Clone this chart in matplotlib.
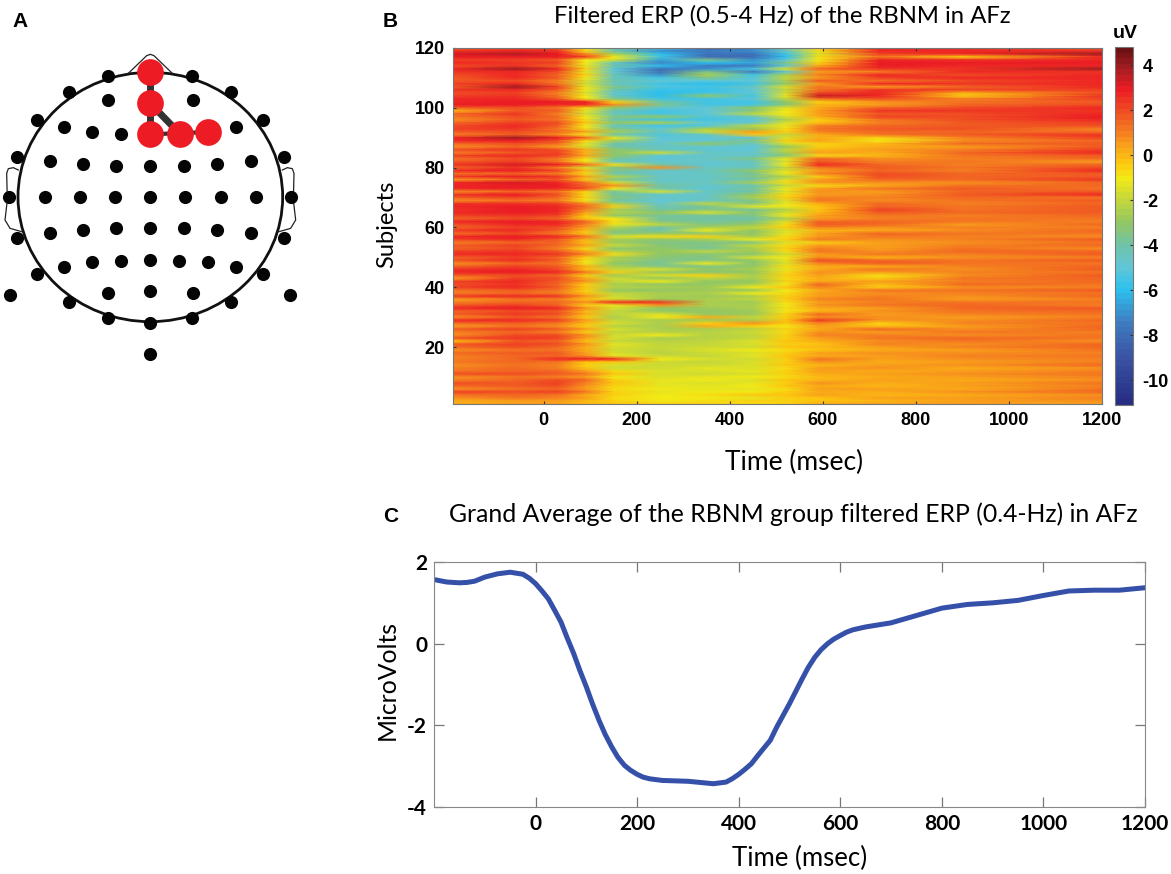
#!/usr/bin/env python3
# -*- coding: utf-8 -*-
"Filtered ERP of the RBNM group: electrode map, subject image and grand average"

import numpy as np
import matplotlib
matplotlib.use('Agg')
import matplotlib.pyplot as plt
from matplotlib.colors import LinearSegmentedColormap
from matplotlib.patches import Ellipse

plt.rcParams['axes.unicode_minus'] = False

#electrodes
black_x = [324, 576, 208, 692, 323, 578, 112, 788, 191, 709, 275, 362, 50, 851, 149, 752, 248, 652, 349, 451, 551,
           28, 134, 239, 344, 451, 556, 662, 767, 872, 50, 851, 149, 752, 248, 652, 349, 451, 551,
           362, 538, 451, 275, 625, 191, 709, 112, 788, 31, 870, 323, 578, 451, 208, 692, 324, 576, 451, 451]
black_y = [227, 227, 277, 277, 300, 300, 360, 360, 382, 382, 395, 401, 470, 470, 484, 484, 492, 492, 497, 497, 497,
           591, 591, 591, 591, 591, 591, 591, 591, 591, 714, 714, 698, 698, 690, 690, 685, 685, 685,
           782, 782, 779, 787, 787, 800, 800, 822, 822, 884, 884, 880, 880, 873, 905, 905, 955, 955, 968, 1062]
red_x = [451, 451, 451, 539, 625]
red_y = [216, 310, 403, 401, 396]
nose_x = [385, 440, 451, 462, 517]
nose_y = [220, 167, 163, 167, 220]
ear_x = [55, 40, 25, 20, 22, 15, 30, 65]
ear_y = [510, 503, 506, 520, 600, 660, 685, 695]

#single subject image (uV), subject 120 first
time_subj = [-195, -60, 30, 90, 150, 250, 350, 450, 520, 590, 720, 900, 1200]
erp_subj = [
    [1.5, 2.3, 2.0, -0.5, -3.8, -5.5, -8.5, -7.5, -4.5, -0.5, 2.6, 2.5, 1.8],
    [2.4, 2.8, 2.5, -0.8, -4.2, -7.0, -7.5, -7.0, -4.5, -0.8, 2.8, 2.8, 2.5],
    [3.2, 3.6, 3.0, 0.6, -2.5, -6.0, -7.8, -7.8, -5.5, -1.5, 2.3, 2.8, 3.9],
    [3.0, 3.0, 3.0, 2.2, -1.0, -5.5, -8.0, -8.0, -6.0, -0.8, 1.2, -0.5, 2.8],
    [2.2, 2.3, 1.8, -1.0, -1.5, -6.5, -3.5, -7.0, -5.0, -1.0, 2.8, 2.5, 2.6],
    [2.8, 2.5, 2.2, -1.0, -4.5, -7.2, -6.0, -6.5, -3.5, -0.5, 3.0, 3.0, 3.0],
    [2.0, 2.5, 1.5, -1.2, -4.0, -6.0, -7.5, -7.5, -5.0, 0.2, 3.0, 2.6, 2.8],
    [2.6, 3.9, 2.8, -0.5, -5.0, -7.8, -7.0, -5.5, -1.5, 1.5, 2.5, 2.5, 4.0],
    [2.4, 2.8, 2.0, -1.2, -4.8, -7.8, -3.5, -7.5, -5.0, 0.5, 1.0, 2.8, 2.5],
    [2.0, 2.6, 1.5, -0.5, -4.2, -7.0, -2.5, -5.5, -2.5, 1.0, 2.6, 2.0, 2.8],
    [1.8, 2.8, 1.8, -1.0, -4.5, -5.5, -3.5, -5.2, -2.0, 0.5, 2.3, 2.6, 2.6],
    [1.6, 2.0, 1.0, -1.5, -4.0, -5.0, -5.0, -5.0, -2.5, 1.8, 1.2, 2.0, 2.8],
    [2.2, 2.8, 1.2, -1.8, -4.5, -5.5, -6.0, -5.5, -3.0, 0.5, 2.8, 2.4, 2.6],
    [1.8, 3.9, 2.2, -1.2, -3.5, -5.2, -5.5, -4.5, -1.5, 1.2, 0.5, 1.5, 2.8],
    [2.5, 2.8, 1.8, -1.0, -4.0, -5.8, -5.8, -5.0, -2.0, 1.2, 2.5, 2.2, 2.2],
    [2.0, 2.3, 1.0, -1.5, -4.8, -6.0, -5.5, -5.0, -1.8, 2.0, 2.8, 0.2, 2.0],
    [2.2, 2.5, 1.2, -1.0, -4.5, -6.0, -3.0, -5.5, -1.2, 3.5, 2.6, -0.5, 2.4],
    [2.6, 2.8, 1.8, -1.0, -3.5, -5.5, -5.5, -5.0, -2.0, 1.5, 2.0, 1.0, 2.2],
    [2.8, 3.0, 3.0, 2.6, -0.5, -4.0, -5.5, -5.5, -3.0, -0.5, 0.8, 1.2, 1.8],
    [3.0, 3.0, 2.8, 2.8, 0.8, -3.5, -5.5, -5.5, -3.2, 0.0, 0.5, 1.5, 2.0],
    [1.8, 2.0, 1.2, -0.5, -3.0, -4.8, -5.0, -3.0, -1.5, 0.2, 1.5, 2.0, 2.8],
    [0.0, 1.8, 1.8, -1.2, -4.0, -5.5, -5.0, -3.5, -1.0, 0.5, 2.5, 2.4, 2.5],
    [1.5, 2.5, 1.0, -1.8, -4.5, -5.5, -5.0, -2.0, -1.0, 0.5, 1.8, 2.0, 2.6],
    [1.2, 2.0, 1.5, -1.0, -3.5, -3.0, -5.2, -4.5, -1.5, 0.2, 2.2, 2.0, 3.0],
    [0.8, 1.8, 1.2, -0.8, -4.2, -5.5, -5.5, -5.0, -2.5, -0.5, 1.2, 2.0, 2.8],
    [1.5, 2.2, 2.0, -0.2, -3.0, -2.5, -5.0, -4.8, -1.5, -0.2, 1.0, 1.8, 2.2],
    [2.0, 2.6, 1.8, -1.0, -4.5, -5.5, -5.2, -2.0, -1.2, 1.0, 1.5, 1.6, 2.0],
    [2.2, 2.4, 1.2, -0.8, -3.5, -5.0, -2.5, -3.0, -0.8, 1.2, 1.8, 2.0, 1.0],
    [1.8, 2.0, 1.5, 0.5, -2.5, -4.5, -1.8, 0.5, -0.5, 1.0, 1.5, 1.5, 1.2],
    [1.0, 1.8, 0.8, -1.0, -4.0, -5.2, -4.5, -0.2, -2.0, 0.2, 1.2, 1.8, 2.4],
    [2.8, 3.9, 3.0, 1.5, -1.2, -5.0, -5.0, -4.8, -1.5, 0.2, -0.5, 1.0, 2.2],
    [2.8, 3.0, 2.0, -0.5, -2.5, -5.0, -5.0, -3.5, -0.5, 0.5, -1.0, 0.8, 1.5],
    [1.5, 2.0, 1.5, -1.2, -4.0, -4.8, -3.0, -4.5, -1.5, -0.5, 0.0, 1.5, 1.6],
    [0.8, 1.5, 0.5, -1.5, -4.0, -4.5, -4.8, -5.0, -3.0, -0.5, 0.2, 0.5, 1.8],
    [2.0, 2.5, 2.0, 0.2, -3.0, -4.5, -5.0, -5.0, -2.0, 0.0, 0.5, 1.0, 2.2],
    [1.0, 1.8, 2.2, 0.0, -3.2, -1.8, -4.5, -4.8, -2.5, 0.5, 0.2, 1.5, 2.6],
    [2.2, 2.8, 2.2, 0.5, -3.0, -5.0, -4.8, -4.8, -3.2, -0.8, 0.0, 1.2, 1.8],
    [1.2, 2.0, 1.2, -0.8, -3.8, -5.0, -4.5, -3.5, -1.2, 1.5, 0.8, 1.0, 1.5],
    [1.8, 2.2, 1.2, -1.0, -4.5, -4.8, -4.8, -4.5, -1.5, 1.8, 1.0, 1.2, 0.5],
    [2.5, 3.2, 3.0, 1.5, -0.8, -4.0, -5.0, -4.5, -1.0, 2.8, 1.5, 1.0, 1.5],
    [1.5, 2.4, 1.0, -1.5, -3.5, 0.6, -4.5, -4.5, -2.0, 1.2, 1.8, 1.2, 2.0],
    [2.8, 3.0, 2.2, 0.0, -3.5, -4.8, -4.5, -3.0, -1.5, 0.5, 1.5, 1.0, 2.8],
    [1.2, 1.5, 1.0, -0.8, -4.0, -4.8, -4.5, -3.8, -1.0, 1.0, 2.0, 1.5, 1.8],
    [2.4, 3.0, 2.5, 0.5, -2.2, -4.5, -4.8, -3.5, -2.5, -0.5, 2.0, 1.5, 1.8],
    [0.5, 1.5, 1.8, -0.5, -3.5, -4.8, -4.5, -4.0, -1.5, 0.5, 1.5, 1.5, 2.5],
    [2.8, 3.1, 2.6, 1.2, -1.5, -4.5, -4.5, -2.5, -0.8, 0.8, 0.8, 0.8, 1.5],
    [2.8, 3.0, 3.0, 1.5, 0.8, -3.8, -4.8, -4.2, -2.0, -0.8, 0.2, 1.2, 1.5],
    [2.6, 3.0, 2.8, 2.0, -1.0, -4.2, -5.0, -3.8, -1.0, 0.5, 1.2, 1.8, 1.2],
    [0.8, 1.5, 1.2, -0.5, -3.8, -1.5, -4.5, -4.0, -1.5, 0.8, 0.5, 1.5, 1.8],
    [2.4, 3.0, 2.0, -0.8, -3.8, -4.8, -4.8, -3.0, -0.8, 0.5, 0.8, 1.6, 2.8],
    [1.8, 2.2, 1.5, -0.5, -3.2, -4.8, -4.5, -2.5, -0.5, 1.0, 1.0, 1.5, 1.2],
    [0.8, 1.2, 1.0, -1.0, -4.0, -5.0, -4.8, -3.5, -1.5, 1.2, 0.8, 1.2, 1.6],
    [2.4, 2.5, 2.2, 0.8, -2.5, -4.8, -2.0, -3.5, -1.2, 0.2, 1.5, 1.0, 1.5],
    [2.8, 3.0, 2.8, 1.5, -0.5, -4.2, -3.8, -1.2, -1.0, -0.2, 1.5, 1.2, 1.8],
    [2.5, 3.0, 2.6, 1.0, -2.5, -4.0, -3.5, -3.8, -2.2, -0.2, 2.2, 1.2, 1.6],
    [2.8, 3.0, 2.8, 0.5, -2.2, -3.0, -1.5, -3.2, -1.8, 0.0, 1.8, 1.5, 1.8],
    [2.2, 2.5, 2.2, -0.2, -3.0, -3.8, -3.8, -3.5, -1.0, 0.5, 1.2, 1.0, 1.4],
    [1.5, 2.0, 1.5, -0.5, -1.0, -3.8, -4.0, -4.0, -2.5, 0.5, 1.0, 1.2, 1.2],
    [2.8, 3.0, 2.8, 1.5, -0.8, -3.5, -3.8, -3.5, -1.5, 1.5, 1.5, 1.2, 1.0],
    [2.0, 2.8, 2.6, 1.0, -1.2, -2.0, -3.5, -3.0, -0.8, 1.8, 1.5, 0.5, 1.5],
    [1.5, 2.2, 2.0, 0.5, -2.2, -4.0, -2.5, -2.0, -0.5, 1.0, 0.8, 1.0, 1.0],
    [2.5, 2.8, 1.8, 0.0, -3.0, -4.0, -1.0, -3.0, -1.5, 0.0, 0.2, 0.8, 1.5],
    [1.2, 2.0, 1.0, -0.5, -3.5, -3.0, -3.2, -3.0, -1.2, 0.5, 1.5, 1.2, 1.2],
    [2.8, 3.0, 2.6, 1.2, -1.5, -0.8, -0.5, -2.8, -0.8, 0.5, 1.2, 1.0, 0.8],
    [2.2, 2.6, 1.8, 0.2, -2.5, -3.0, -2.5, -1.0, -0.5, 1.2, 0.6, 1.0, 1.6],
    [1.0, 1.5, 1.5, -0.2, -2.8, -3.5, -3.5, -3.5, -1.5, -0.5, 0.5, 0.8, 1.2],
    [1.8, 2.2, 1.5, 0.5, -1.8, -3.2, -3.5, -2.0, -0.8, 0.5, 0.5, 1.0, 1.5],
    [1.5, 2.0, 1.0, -0.8, -3.2, -3.0, -3.8, -2.5, -0.5, 1.0, 0.5, 1.2, 0.8],
    [2.2, 2.4, 1.8, 0.2, -2.2, -3.0, -2.0, -2.8, -0.8, 1.2, 0.8, 1.5, 1.4],
    [2.6, 2.8, 2.5, 1.0, -0.8, -3.0, -3.2, -3.2, -1.8, 0.5, 1.2, 1.0, 1.6],
    [1.5, 2.2, 1.5, -0.5, -2.5, -3.2, -3.5, -1.5, -1.0, 0.8, 0.0, 0.8, 1.0],
    [2.0, 2.8, 1.8, -0.8, -2.5, -3.5, -3.5, -3.0, -1.2, 2.0, 1.5, 1.2, 1.8],
    [0.8, 1.5, 1.2, -1.0, -3.0, -3.8, -1.0, -3.2, -1.5, 1.0, 1.8, 1.2, 1.2],
    [1.5, 2.2, 1.8, 0.2, -2.5, -3.5, -3.5, -3.0, -0.8, 0.2, 0.2, 1.0, 1.5],
    [2.5, 2.8, 2.0, -0.2, -2.0, -1.5, -3.0, -2.5, -1.2, 0.2, 1.2, 0.8, 1.8],
    [2.8, 3.0, 2.6, 1.2, -0.5, -3.0, -3.2, -3.0, -0.8, 0.8, 0.5, 1.0, 1.2],
    [1.8, 2.0, 1.5, -0.5, -2.8, -1.5, -0.5, -2.5, -0.5, 0.5, -0.8, 0.8, 1.6],
    [0.5, 2.2, 2.0, 0.2, -1.8, -3.0, -2.0, -2.5, -0.8, 0.2, -0.5, 1.2, 1.4],
    [2.2, 2.6, 1.8, 0.8, -2.0, -1.0, -3.0, -3.0, -0.5, 0.2, 0.5, 1.0, 1.5],
    [2.0, 2.4, 1.5, -0.5, -2.5, -3.0, -3.0, -2.5, -1.0, 1.5, 0.0, 1.5, 1.2],
    [2.2, 2.8, 1.8, -0.2, -2.2, -2.5, -2.8, -1.0, -0.2, 1.0, -0.5, 0.8, 1.0],
    [1.2, 1.8, 1.2, -0.5, -3.0, -3.0, -2.8, -3.0, -1.0, 0.2, 1.2, 1.2, 1.6],
    [1.0, 1.5, 1.0, -0.2, -2.0, -2.5, -2.5, -1.0, -0.8, 0.5, 0.8, 1.0, 1.2],
    [2.4, 2.8, 2.5, 0.8, -1.8, -2.5, -2.8, -2.5, -0.5, 0.5, 1.0, 0.8, 1.5],
    [0.5, 1.2, 1.0, -0.2, -1.5, -2.8, -2.5, -2.0, -0.5, 1.0, 1.2, 0.5, 1.0],
    [1.0, 1.5, 1.5, 0.8, 2.8, 2.5, -2.5, -2.8, -0.8, 0.5, 1.0, 1.2, 1.2],
    [1.8, 2.2, 1.5, -0.5, -1.2, 0.8, -2.5, -2.5, -1.0, 0.8, 1.2, 1.4, 1.0],
    [2.6, 3.0, 2.8, 0.8, -1.5, -3.0, -2.8, -2.5, -0.8, 0.2, 0.5, 1.5, 1.6],
    [1.5, 2.0, 1.8, 0.0, -2.0, -3.0, -3.0, -2.8, -1.0, 0.0, 0.8, 1.2, 1.4],
    [1.8, 2.4, 2.0, 0.2, -2.0, -1.5, -3.0, -2.8, -0.5, 1.5, 0.5, 1.0, 1.2],
    [0.8, 1.8, 1.2, -0.5, -2.5, -1.0, 0.2, -2.0, -0.5, 0.8, 0.8, 0.5, 1.0],
    [2.8, 2.6, 2.2, 0.5, -2.0, -2.5, -2.8, -2.5, -0.2, 2.5, 0.8, 0.8, 1.4],
    [1.5, 1.8, 1.2, 0.0, -1.5, -2.5, -0.5, 0.8, -0.2, 1.0, -0.5, 1.0, 1.2],
    [0.5, 1.2, 0.8, -0.5, -2.2, -2.5, 0.2, -0.5, -1.0, 0.5, -0.2, 0.5, 1.5],
    [1.8, 2.2, 1.8, 0.5, -1.5, -2.5, -2.5, -2.2, -0.5, 0.2, 1.5, 0.8, 1.4],
    [1.0, 1.5, 1.0, -0.5, -2.0, -2.2, -2.2, -1.8, -0.8, 0.8, 0.5, 1.2, 1.0],
    [0.8, 2.0, 2.0, 0.8, -1.8, -1.0, -2.2, -2.0, -0.5, 1.0, 1.0, 0.8, 1.2],
    [2.0, 2.4, 2.2, 0.5, -1.5, -2.5, -2.2, -2.0, -0.5, 0.5, 1.2, 1.5, 1.2],
    [-0.2, 1.8, 1.5, -0.2, -2.0, -2.2, -2.0, -1.5, -0.2, 0.2, 0.8, 1.2, 0.8],
    [1.8, 2.2, 2.0, 0.8, -1.2, -2.0, -2.0, -1.5, -0.5, -0.2, 1.0, 0.8, 1.4],
    [1.5, 2.0, 1.5, 0.2, -1.5, -2.0, -1.8, -1.8, -0.2, 0.0, 0.5, 1.0, 1.5],
    [0.8, 1.2, 1.2, 0.2, -1.8, -2.0, -1.5, -1.0, -0.8, -0.2, 0.2, 0.5, 1.2],
    [1.4, 1.8, 1.6, 0.4, -1.5, -2.2, -1.8, -1.6, -0.5, 0.5, 0.8, 0.6, 1.0],
    [1.0, 1.5, 1.4, 0.6, -1.2, -1.8, -2.0, -1.2, -0.4, 0.2, 0.4, 1.0, 1.3],
    [1.0, 1.5, 2.6, 3.0, 2.8, -1.0, -1.5, -1.8, -0.5, 1.2, 0.5, 0.8, 1.0],
    [1.2, 1.5, 1.2, -0.2, -0.2, -1.8, -2.0, -1.5, -0.5, 0.8, 0.2, 0.5, 1.0],
    [0.8, 1.2, 1.0, -0.5, -1.5, -1.8, -1.8, -1.5, -0.2, 0.0, 0.5, 0.8, 1.4],
    [1.0, 1.5, 1.0, -0.2, -1.8, -1.8, -1.2, -1.5, -0.8, 0.5, 0.8, 0.2, 0.8],
    [1.2, 1.5, 1.5, 0.5, -0.8, -1.5, -1.5, -1.2, -0.5, 0.5, 0.2, 0.5, 1.0],
    [2.0, 2.0, 1.8, 1.2, -0.2, -1.5, -1.8, -1.5, -0.5, 0.2, 0.5, 0.8, 1.2],
    [0.8, 1.2, 1.0, 0.5, -1.0, -1.5, -1.2, -1.0, -0.8, 0.0, 0.2, 0.5, 1.0],
    [1.0, 1.5, 2.0, 1.5, -0.5, -1.2, -1.0, -1.5, -0.2, 0.0, 0.5, 0.2, 0.8],
    [2.0, 1.8, 2.2, 1.0, -0.2, -1.2, -1.5, -1.2, -0.5, 0.8, 0.2, 0.5, 1.2],
    [1.5, 1.8, 2.0, 0.8, -0.5, -1.2, -1.2, -1.0, -0.2, 0.2, 0.0, 0.5, 1.0],
    [0.8, 1.2, 1.5, 0.5, -0.8, -1.0, -1.2, -1.2, -0.8, 0.5, 0.5, 0.2, 1.2],
    [2.2, 2.0, 2.2, 1.2, -0.5, -1.2, -1.0, -1.0, -0.5, 0.2, 0.2, 0.8, 1.4],
    [1.2, 1.5, 1.2, 0.2, -0.5, -1.0, -0.8, -0.2, -0.2, 0.5, 0.0, 0.2, 0.8],
    [0.8, 1.2, 1.0, 0.5, -0.8, -1.0, -1.0, -1.2, -0.5, -0.2, 0.5, 0.5, 1.0],
    [0.2, 0.5, 0.5, 0.0, -0.5, -1.0, -0.8, -0.5, -0.5, -0.2, 0.0, 0.5, 0.8],
    [0.2, 0.4, 0.4, 0.0, -0.2, -0.5, -0.5, -0.8, -0.5, 0.2, 0.5, 0.5, 0.5],
]
subject_ticks = [20, 40, 60, 80, 100, 120]
colorbar_ticks = [-10, -8, -6, -4, -2, 0, 2, 4]

#grand average
time_avg = [-200, -175, -150, -135, -120, -100, -75, -50, -25, -12, 0, 12, 25, 37, 50, 62, 75, 87, 100, 112, 125, 137,
            150, 162, 175, 187, 200, 212, 225, 250, 300, 350, 375, 387, 400, 412, 425, 437, 450, 462, 475, 500, 525,
            537, 550, 562, 575, 587, 600, 612, 625, 650, 700, 750, 800, 850, 900, 950, 1000, 1050, 1100, 1150, 1200]
erp_avg = [1.57, 1.51, 1.49, 1.50, 1.53, 1.63, 1.71, 1.75, 1.70, 1.60, 1.47, 1.30, 1.10, 0.83, 0.53, 0.15, -0.24, -0.65,
           -1.06, -1.47, -1.88, -2.22, -2.53, -2.78, -2.98, -3.10, -3.20, -3.27, -3.31, -3.35, -3.37, -3.43, -3.39,
           -3.31, -3.20, -3.08, -2.94, -2.75, -2.55, -2.37, -2.04, -1.47, -0.86, -0.58, -0.33, -0.15, 0.00, 0.11,
           0.20, 0.28, 0.34, 0.41, 0.51, 0.69, 0.87, 0.96, 1.00, 1.06, 1.18, 1.29, 1.31, 1.31, 1.37]
time_ticks_avg = [0, 200, 400, 600, 800, 1000, 1200]
volt_ticks = [-4, -2, 0, 2]

W, H = 1171.0, 874.0
bold_sans = 'Liberation Sans'
lato = 'Lato'

def box(left, top, right, bottom):
    return [left/W, 1 - bottom/H, (right - left)/W, (bottom - top)/H]

fig = plt.figure(figsize=(W/100, H/100), dpi=100)

#A head map
ax_a = fig.add_axes([0, 1 - 370/H, 320/W, 370/H])
ax_a.set_xlim(0, 960)
ax_a.set_ylim(1110, 0)
ax_a.axis('off')
ax_a.add_patch(Ellipse((451, 591), 794, 748, fill=False, ec='#111111', lw=2.0))
ax_a.plot(nose_x, nose_y, color='#222222', lw=0.9)
ax_a.plot(ear_x, ear_y, color='#222222', lw=0.9)
ax_a.plot(902 - np.array(ear_x), ear_y, color='#222222', lw=0.9)
ax_a.scatter(black_x, black_y, s=90, color='#050505', zorder=3, lw=0)
ax_a.plot([red_x[0], red_x[2]], [red_y[0], red_y[2]], color='#333333', lw=5, zorder=4)
ax_a.plot([red_x[1], red_x[3]], [red_y[1], red_y[3]], color='#333333', lw=5, zorder=4)
ax_a.plot([red_x[2], red_x[4]], [red_y[2], red_y[4]], color='#333333', lw=3, zorder=4)
ax_a.scatter(red_x, red_y, s=370, color='#ed1c24', zorder=5, lw=0)

#B subject image
stops = [(-11.1, '#262d82'), (-9, '#3b55a5'), (-7.5, '#3f7cc0'), (-6, '#2cc1ef'), (-5, '#62c6d6'), (-4, '#70c3a8'),
         (-3, '#93c763'), (-2, '#c3d63c'), (-1, '#f2ea17'), (-0.3, '#fdc60f'), (0.5, '#f9a01b'), (1, '#f58220'),
         (2, '#f04e23'), (3, '#ed1c24'), (4, '#a11d21'), (4.8, '#6d1214')]
vmin, vmax = -11.1, 4.8
cmap = LinearSegmentedColormap.from_list('erp', [((v - vmin)/(vmax - vmin), c) for v, c in stops], N=64)

ax_b = fig.add_axes(box(453, 48, 1102, 404))
subjects = np.arange(120, 0, -1)
mesh = ax_b.pcolormesh(time_subj, subjects, np.array(erp_subj), cmap=cmap, vmin=vmin, vmax=vmax, shading='gouraud')
ax_b.set_xlim(-195, 1200)
ax_b.set_ylim(1, 120)
ax_b.set_xticks(time_ticks_avg)
ax_b.set_yticks(subject_ticks)
ax_b.tick_params(direction='in', length=2, width=0.8, pad=6, labelsize=13, color='#333333', top=True)
for lab in ax_b.get_xticklabels() + ax_b.get_yticklabels():
    lab.set_family(bold_sans)
    lab.set_fontweight('bold')
for s in ax_b.spines.values():
    s.set_color('#777777')
fig.text(782/W, 1 - 23/H, 'Filtered ERP (0.5-4 Hz) of the RBNM in AFz', family=lato, fontsize=17.2,
         ha='center', va='baseline')
fig.text(794/W, 1 - 470/H, 'Time (msec)', family=lato, fontsize=19, ha='center', va='baseline')
fig.text(387/W, 1 - 224/H, 'Subjects', family=lato, fontsize=17, rotation=90, ha='center', va='center')

cax = fig.add_axes(box(1115, 47, 1133, 405))
cb = fig.colorbar(mesh, cax=cax)
cb.set_ticks(colorbar_ticks)
cb.ax.tick_params(direction='in', length=2, width=0.8, pad=7, labelsize=13, color='#333333')
for lab in cb.ax.get_yticklabels():
    lab.set_family(bold_sans)
    lab.set_fontweight('bold')
cb.outline.set_edgecolor('#777777')
fig.text(1125/W, 1 - 38/H, 'uV', family=bold_sans, fontweight='bold', fontsize=14, ha='center', va='baseline')

#C grand average
ax_c = fig.add_axes(box(434, 562, 1145, 807))
ax_c.plot(time_avg, erp_avg, color='#3550a8', lw=3.6)
ax_c.set_xlim(-200, 1200)
ax_c.set_ylim(-4, 2)
ax_c.set_xticks(time_ticks_avg)
ax_c.set_yticks(volt_ticks)
ax_c.tick_params(direction='in', length=7, width=0.9, pad=5, labelsize=15, color='#777777', top=True, right=True)
for lab in ax_c.get_xticklabels() + ax_c.get_yticklabels():
    lab.set_family(lato)
    lab.set_fontweight('bold')
for s in ax_c.spines.values():
    s.set_color('#888888')
fig.text(387/W, 1 - 680/H, 'MicroVolts', family=lato, fontsize=17.8, rotation=90, ha='center', va='center')
fig.text(793/W, 1 - 522/H, 'Grand Average of the RBNM group filtered ERP (0.4-Hz) in AFz', family=lato, fontsize=17.8,
         ha='center', va='baseline')
fig.text(800/W, 1 - 866/H, 'Time (msec)', family=lato, fontsize=18.5, ha='center', va='baseline')

#panel letters
fig.text(12/W, 1 - 27/H, 'A', family=bold_sans, fontweight='bold', fontsize=15)
fig.text(383/W, 1 - 27/H, 'B', family=bold_sans, fontweight='bold', fontsize=15)
fig.text(383/W, 1 - 522/H, 'C', family=bold_sans, fontweight='bold', fontsize=15)

fig.savefig('out.png', dpi=100)
